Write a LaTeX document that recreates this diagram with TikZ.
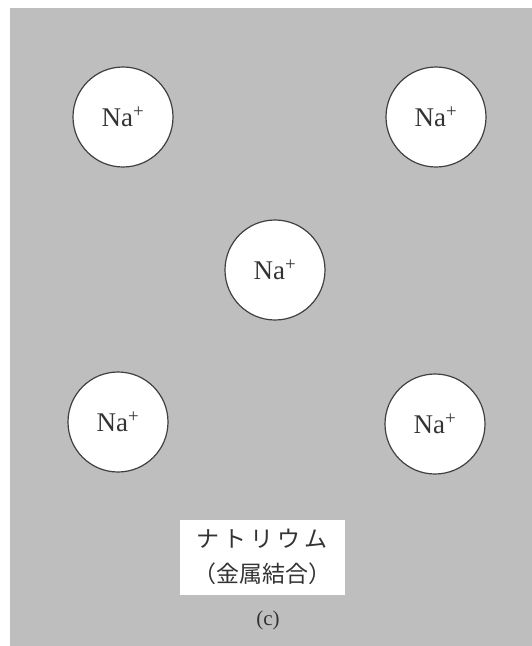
\documentclass[tikz,border=0pt]{standalone}
\usepackage{fontspec}
\setmainfont{Liberation Serif}
\newfontfamily\jpfont{Noto Sans CJK JP}
\definecolor{bggray}{RGB}{190,190,190}

\begin{document}
\begin{tikzpicture}[x=1pt,y=-1pt,
    ion/.style={circle,draw=black!75,line width=1.2pt,fill=white,minimum size=100pt,inner sep=0pt,font=\fontsize{27}{30}\selectfont,text=black!80}]
\useasboundingbox (0,0) rectangle (532,646);
\fill[bggray] (10,8) rectangle (532,646);
\node[ion] (1) at (123,117) {Na\textsuperscript{+}};
\node[ion] (2) at (436,117) {Na\textsuperscript{+}};
\node[ion] (3) at (275,270) {Na\textsuperscript{+}};
\node[ion] (4) at (118,422) {Na\textsuperscript{+}};
\node[ion] (5) at (435,424) {Na\textsuperscript{+}};
\node[fill=white,minimum width=165pt,minimum height=75pt,align=center,
      font=\jpfont\fontsize{23}{35}\selectfont,text=black!80] (label) at (262,557)
      {\addfontfeature{LetterSpace=18}ナトリウム\\（金属結合）};
\node[font=\fontsize{21}{24}\selectfont,text=black!80] (c) at (268,620) {(c)};
\end{tikzpicture}
\end{document}
